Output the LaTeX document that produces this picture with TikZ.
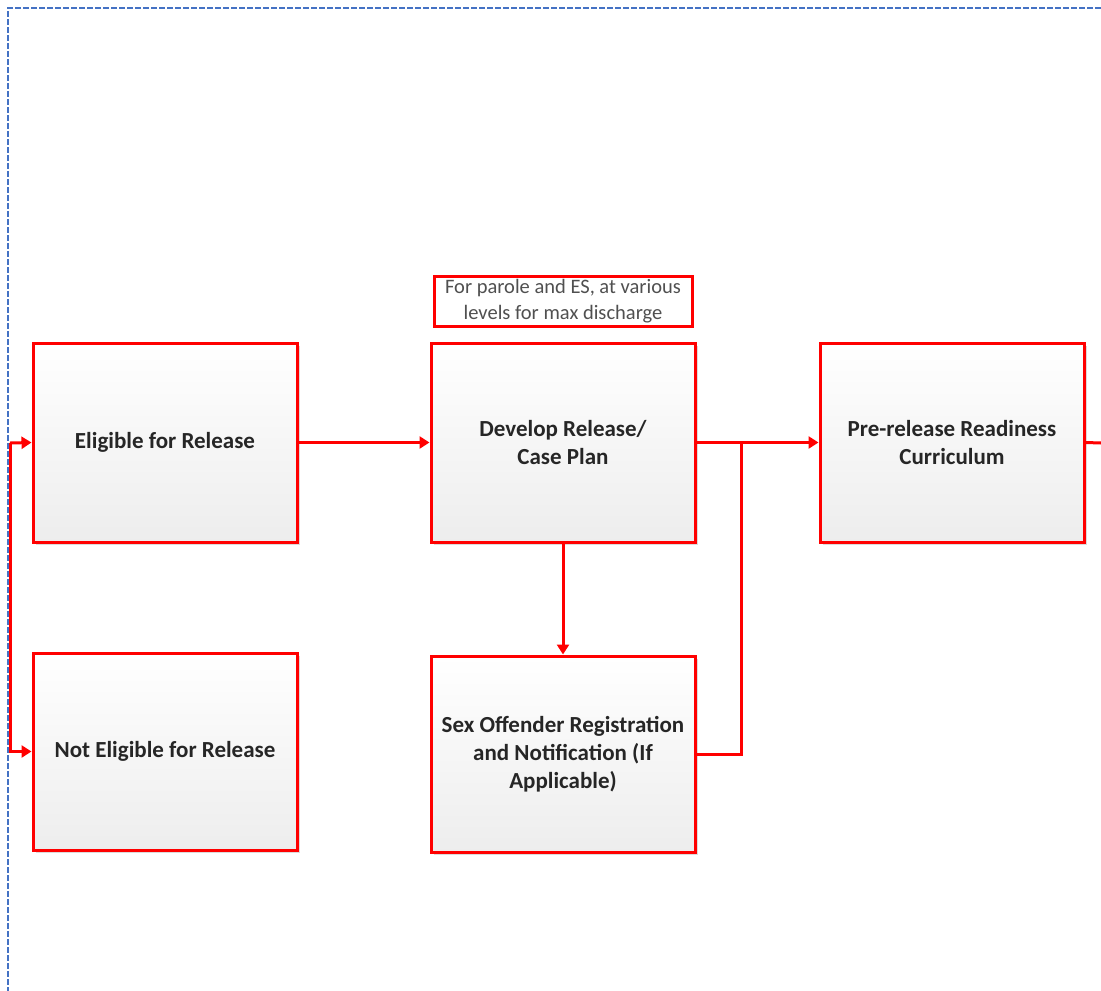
\documentclass[tikz,border=0pt]{standalone}
\usepackage{fontspec}
\setmainfont{Carlito}
\usetikzlibrary{arrows.meta,shadows}
\definecolor{flowred}{RGB}{255,0,0}
\definecolor{frameblue}{RGB}{68,114,196}
\definecolor{boxtext}{RGB}{38,38,38}
\definecolor{notetext}{RGB}{80,80,80}
\begin{document}
\begin{tikzpicture}[x=1pt,y=-1pt,
  stepbox/.style={rectangle, draw=flowred, line width=3pt,
    top color=white, bottom color=black!7,
    drop shadow={shadow xshift=3pt, shadow yshift=-3pt, fill=black!14, opacity=1},
    minimum width=264pt, minimum height=199pt, inner sep=1pt,
    align=center, text=boxtext,
    font=\fontsize{23}{28}\selectfont\bfseries},
  notebox/.style={rectangle, draw=flowred, line width=3pt, fill=white,
    minimum width=258pt, minimum height=50pt, inner sep=1pt,
    align=center, text=notetext,
    font=\fontsize{20.5}{26}\selectfont},
  flow/.style={draw=flowred, line width=3pt},
  arr/.style={flow, -{Triangle[width=12pt,length=10pt]}}
]
\useasboundingbox (0,0) rectangle (1101,991);

% outer dashed frame
\draw[frameblue, line width=1.6pt, dash pattern=on 6pt off 2pt]
  (1101,8) -- (8,8) -- (8,991);

% process boxes
\node[stepbox] (elig) at (165,442.5) {Eligible for Release};
\node[stepbox, minimum height=197pt] (noelig) at (165,751.5) {Not Eligible for Release};
\node[stepbox] (dev) at (563,442.5) {Develop Release/\\Case Plan};
\node[stepbox, minimum height=196pt] (sex) at (563,754) {Sex Offender Registration\\and Notification (If\\Applicable)};
\node[stepbox] (pre) at (952,442.5) {Pre-release Readiness\\Curriculum};
\node[notebox] (note) at (563,301) {For parole and ES, at various\\levels for max discharge};

% connector end points
\coordinate (feed) at (10,443);
\coordinate (join) at (741,443);
\coordinate (onward) at (1101,443);

% connectors
\draw[arr] (feed) -- (elig.west);
\draw[arr] (feed) |- (noelig.west);
\draw[arr] (elig.east) -- (dev.west);
\draw[arr] (dev.east) -- (pre.west);
\draw[arr] (dev.south) -- (sex.north);
\draw[flow] (sex.east) -| (join);
\draw[flow] (pre.east) -- (onward);
\end{tikzpicture}
\end{document}
